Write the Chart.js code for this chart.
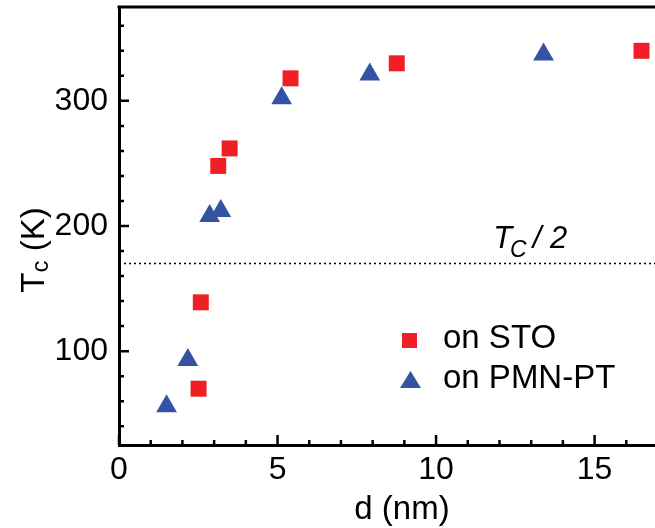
<!DOCTYPE html>
<html>
<head>
<meta charset="utf-8">
<script src="https://cdn.jsdelivr.net/npm/chart.js@4.4.0/dist/chart.umd.min.js"></script>
<style>
html, body { margin: 0; padding: 0; background: #fff; overflow: hidden; width: 655px; height: 528px; }
canvas { display: block; }
</style>
</head>
<body>
<canvas id="tc-chart" width="662" height="528"></canvas>
<script>
// film thickness d (nm) and Curie temperature Tc (K)
const stoThickness = [2.51, 2.58, 3.13, 3.49, 5.41, 8.76, 16.48];
const stoTc = [70, 139, 248, 262, 318, 330, 340];
const pmnThickness = [1.50, 2.17, 2.86, 3.21, 5.13, 7.91, 13.39];
const pmnTc = [56, 93, 208, 212, 302, 321, 337];

// horizontal reference line at Tc / 2
const halfTcLine = [0, 17];
const halfTc = 170;

// axis ticks (majors get a label)
const xTicks = [0, 1, 2, 3, 4, 5, 6, 7, 8, 9, 10, 11, 12, 13, 14, 15, 16, 17];
const xMajor = [0, 5, 10, 15];
const yTicks = [40, 60, 80, 100, 120, 140, 160, 180, 200, 220, 240, 260, 280, 300, 320, 340, 360];
const yMajor = [100, 200, 300];

const FONT = "'Liberation Sans', Arial, Helvetica, sans-serif";

function toPoints(xs, ys) {
    return xs.map((x, i) => ({ x: x, y: ys[i] }));
}

// no extra room for edge labels, the chart area is pinned by the layout padding
function noEdgePadding(scale) {
    scale.paddingTop = 0;
    scale.paddingBottom = 0;
    scale.paddingLeft = 0;
    scale.paddingRight = 0;
}

// inward tick marks, top frame line, axis titles, Tc/2 note and legend
const decorPlugin = {
    id: 'decor',
    afterDraw(chart) {
        const { ctx, chartArea: a, scales: { x, y } } = chart;
        ctx.save();
        ctx.strokeStyle = '#000';
        ctx.lineWidth = 2.5;
        ctx.beginPath();
        xTicks.forEach(v => {
            const px = x.getPixelForValue(v);
            const len = xMajor.includes(v) ? 10 : 5;
            ctx.moveTo(px, a.bottom);
            ctx.lineTo(px, a.bottom - len);
        });
        yTicks.forEach(v => {
            const py = y.getPixelForValue(v);
            const len = yMajor.includes(v) ? 10 : 5;
            ctx.moveTo(a.left, py);
            ctx.lineTo(a.left + len, py);
        });
        ctx.stroke();

        // top frame
        ctx.lineWidth = 3;
        ctx.beginPath();
        ctx.moveTo(a.left - 1.5, a.top);
        ctx.lineTo(a.right + 2, a.top);
        ctx.stroke();

        ctx.fillStyle = '#000';
        ctx.textBaseline = 'alphabetic';

        // x title
        ctx.font = '33px ' + FONT;
        ctx.textAlign = 'center';
        ctx.fillText('d (nm)', 402, 519);

        // y title: T_c (K), rotated
        ctx.save();
        ctx.translate(44, 250);
        ctx.rotate(-Math.PI / 2);
        ctx.textAlign = 'left';
        ctx.font = '33px ' + FONT;
        const wT = ctx.measureText('T').width;
        ctx.font = '24px ' + FONT;
        const wc = ctx.measureText('c').width;
        ctx.font = '33px ' + FONT;
        const wK = ctx.measureText(' (K)').width;
        let tx = -(wT + wc + wK) / 2;
        ctx.fillText('T', tx, 0);
        tx += wT;
        ctx.font = '24px ' + FONT;
        ctx.fillText('c', tx, 4);
        tx += wc;
        ctx.font = '33px ' + FONT;
        ctx.fillText(' (K)', tx, 0);
        ctx.restore();

        // Tc / 2 note above the dotted line
        let nx = x.getPixelForValue(11.8);
        const ny = y.getPixelForValue(halfTc) - 16;
        ctx.textAlign = 'left';
        ctx.font = 'italic 31px ' + FONT;
        ctx.fillText('T', nx, ny);
        nx += ctx.measureText('T').width - 2;
        ctx.font = 'italic 23px ' + FONT;
        ctx.fillText('C', nx, ny + 9);
        nx += ctx.measureText('C').width + 6;
        ctx.font = 'italic 31px ' + FONT;
        ctx.fillText('/ 2', nx, ny);

        // legend
        ctx.fillStyle = '#EE2024';
        ctx.fillRect(402, 333, 15, 15);
        ctx.fillStyle = '#3553A4';
        ctx.beginPath();
        ctx.moveTo(410.5, 371);
        ctx.lineTo(421, 388);
        ctx.lineTo(400, 388);
        ctx.closePath();
        ctx.fill();
        ctx.fillStyle = '#000';
        ctx.font = '33px ' + FONT;
        ctx.fillText('on STO', 443, 348);
        ctx.fillText('on PMN-PT', 443, 388);
        ctx.restore();
    }
};

const canvas = document.getElementById('tc-chart');
const ctx = canvas.getContext('2d');

new Chart(ctx, {
    type: 'scatter',
    data: {
        datasets: [
            {
                label: 'Tc / 2',
                type: 'line',
                data: toPoints(halfTcLine, [halfTc, halfTc]),
                borderColor: '#000',
                borderWidth: 1.5,
                borderDash: [2, 3],
                pointRadius: 0,
                fill: false
            },
            {
                label: 'on STO',
                data: toPoints(stoThickness, stoTc),
                pointStyle: 'rect',
                pointRadius: 11.3,
                pointHoverRadius: 11.3,
                backgroundColor: '#EE2024',
                borderWidth: 0
            },
            {
                label: 'on PMN-PT',
                data: toPoints(pmnThickness, pmnTc),
                pointStyle: 'triangle',
                pointRadius: 12,
                pointHoverRadius: 12,
                backgroundColor: '#3553A4',
                borderWidth: 0
            }
        ]
    },
    options: {
        responsive: false,
        animation: false,
        devicePixelRatio: 1,
        layout: { autoPadding: false, padding: { top: 7, right: 4, left: 0, bottom: 0 } },
        plugins: {
            legend: { display: false },
            tooltip: { enabled: false }
        },
        scales: {
            x: {
                type: 'linear',
                min: 0,
                max: 17,
                afterFit: scale => { scale.height = 83; noEdgePadding(scale); },
                afterBuildTicks: scale => { scale.ticks = xMajor.map(v => ({ value: v })); },
                grid: { display: false, drawTicks: false },
                border: { display: true, color: '#000', width: 3 },
                ticks: {
                    autoSkip: false,
                    maxRotation: 0,
                    padding: 6,
                    color: '#000',
                    font: { family: FONT, size: 32 }
                }
            },
            y: {
                type: 'linear',
                min: 25,
                max: 375,
                afterFit: scale => { scale.width = 119; noEdgePadding(scale); },
                afterBuildTicks: scale => { scale.ticks = yMajor.map(v => ({ value: v })); },
                grid: { display: false, drawTicks: false },
                border: { display: true, color: '#000', width: 3 },
                ticks: {
                    autoSkip: false,
                    padding: 11,
                    color: '#000',
                    font: { family: FONT, size: 32 }
                }
            }
        }
    },
    plugins: [decorPlugin]
});
</script>
</body>
</html>
